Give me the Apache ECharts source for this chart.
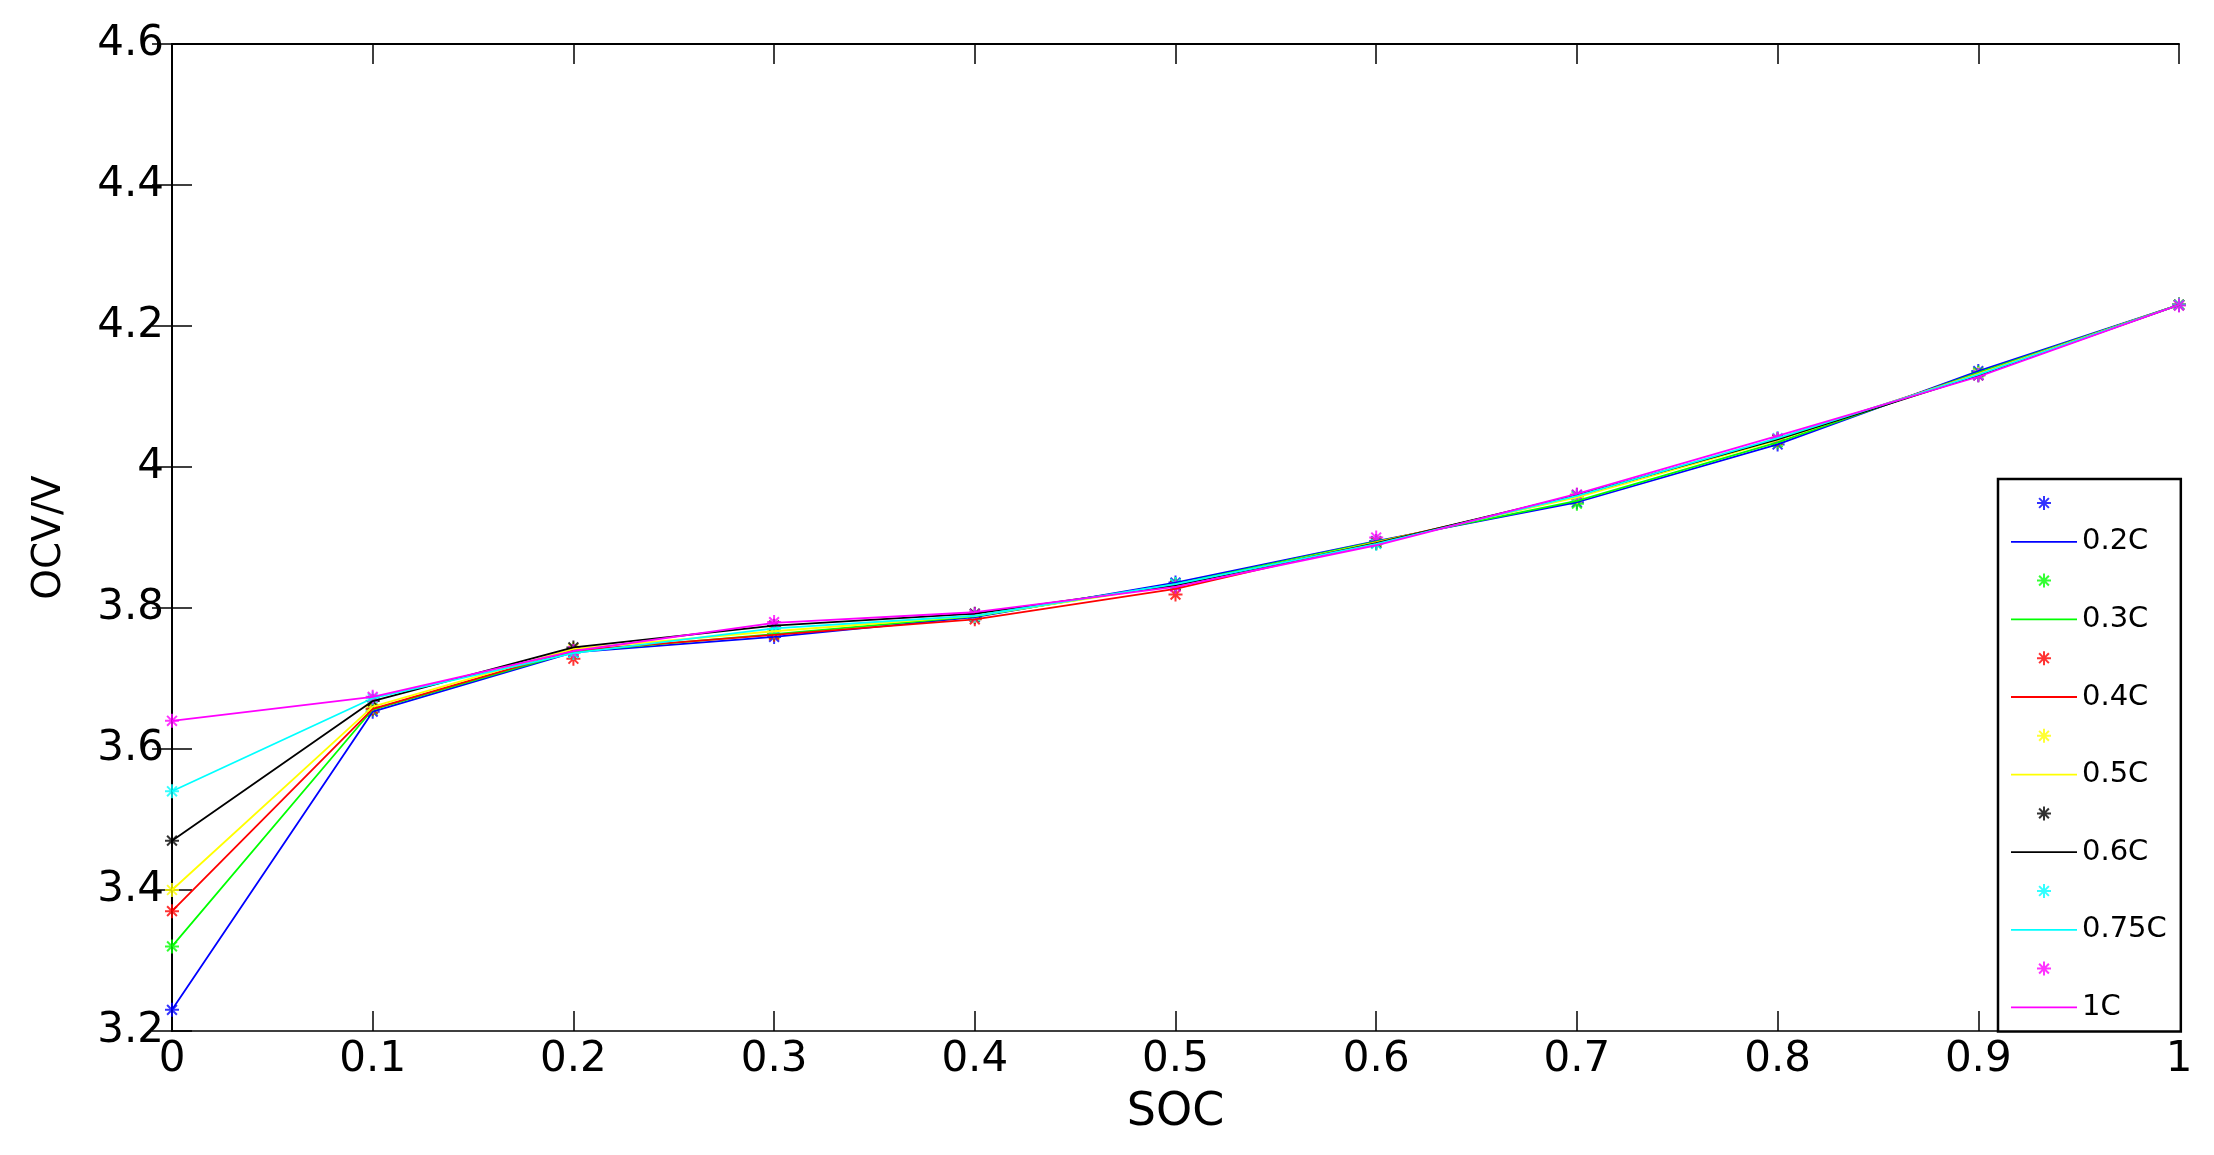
<!DOCTYPE html>
<html>
<head>
<meta charset="utf-8">
<script src="https://cdn.jsdelivr.net/npm/echarts@6/dist/echarts.min.js"></script>
<style>
  body { margin: 0; background: #fff; }
  #main { width: 2214px; height: 1155px; }
</style>
</head>
<body>
<div id="main"></div>
<script>
// SOC points
var soc = [0, 0.1, 0.2, 0.3, 0.4, 0.5, 0.6, 0.7, 0.8, 0.9, 1];
var rates = ['0.2C', '0.3C', '0.4C', '0.5C', '0.6C', '0.75C', '1C'];

// measured points (stars)
var mark02 = [3.23, 3.653, 3.737, 3.759, 3.787, 3.836, 3.895, 3.950, 4.032, 4.136, 4.23];
var mark03 = [3.32, 3.656, 3.738, 3.763, 3.788, 3.834, 3.894, 3.948, 4.035, 4.134, 4.23];
var mark04 = [3.37, 3.657, 3.728, 3.762, 3.784, 3.819, 3.893, 3.958, 4.040, 4.132, 4.23];
var mark05 = [3.40, 3.660, 3.742, 3.767, 3.789, 3.832, 3.893, 3.957, 4.038, 4.132, 4.23];
var mark06 = [3.47, 3.668, 3.744, 3.775, 3.792, 3.832, 3.892, 3.960, 4.039, 4.130, 4.23];
var mark075 = [3.54, 3.672, 3.736, 3.770, 3.789, 3.834, 3.891, 3.959, 4.041, 4.131, 4.23];
var mark1 = [3.64, 3.674, 3.739, 3.780, 3.791, 3.830, 3.900, 3.961, 4.040, 4.130, 4.229];

// curves (lines)
var line02 = [3.23, 3.653, 3.737, 3.759, 3.787, 3.836, 3.895, 3.950, 4.032, 4.136, 4.23];
var line03 = [3.32, 3.656, 3.738, 3.763, 3.788, 3.834, 3.894, 3.952, 4.035, 4.134, 4.23];
var line04 = [3.37, 3.657, 3.740, 3.762, 3.784, 3.827, 3.893, 3.958, 4.040, 4.132, 4.23];
var line05 = [3.40, 3.660, 3.742, 3.767, 3.789, 3.832, 3.893, 3.957, 4.038, 4.132, 4.23];
var line06 = [3.47, 3.668, 3.744, 3.775, 3.792, 3.832, 3.892, 3.960, 4.039, 4.130, 4.23];
var line075 = [3.54, 3.672, 3.736, 3.771, 3.789, 3.834, 3.891, 3.959, 4.041, 4.131, 4.23];
var line1 = [3.64, 3.674, 3.739, 3.779, 3.794, 3.830, 3.889, 3.962, 4.044, 4.128, 4.23];

var marks = [mark02, mark03, mark04, mark05, mark06, mark075, mark1];
var lines = [line02, line03, line04, line05, line06, line075, line1];
var colors = ['#0000ff', '#00ff00', '#ff0000', '#ffff00', '#000000', '#00ffff', '#ff00ff'];
var star = 'path://M0,-1L0,1M-1,0L1,0M-0.7,-0.7L0.7,0.7M-0.7,0.7L0.7,-0.7';
var dash = 'path://M0,0H66V1.8H0Z';
var font = "'DejaVu Sans', sans-serif";

var series = [];
var legendData = [];
for (var i = 0; i < rates.length; i++) {
  var pts = [], crv = [];
  for (var j = 0; j < soc.length; j++) {
    pts.push([soc[j], marks[i][j]]);
    crv.push([soc[j], lines[i][j]]);
  }
  series.push({
    name: rates[i] + '*',
    type: 'scatter',
    data: pts,
    symbol: star,
    symbolSize: 14,
    itemStyle: { color: colors[i], borderColor: colors[i], borderWidth: 2 },
    silent: true
  });
  series.push({
    name: rates[i],
    type: 'line',
    data: crv,
    symbol: 'none',
    lineStyle: { color: colors[i], width: 1.8 },
    itemStyle: { color: colors[i] },
    silent: true
  });
  legendData.push({ name: rates[i] + '*' });
  legendData.push({ name: rates[i], icon: dash, itemStyle: { color: colors[i], borderWidth: 0 } });
}

var chart = echarts.init(document.getElementById('main'));
chart.setOption({
  animation: false,
  backgroundColor: '#fff',
  grid: { left: 172, right: 35, top: 44, bottom: 124, containLabel: false },
  legend: {
    data: legendData,
    orient: 'vertical',
    left: 1998,
    top: 479,
    itemWidth: 66,
    itemHeight: 14,
    itemGap: 8.8,
    padding: [9, 14, 9, 13],
    backgroundColor: '#fff',
    borderColor: '#000',
    borderWidth: 2.5,
    selectedMode: false,
    formatter: function (name) { return name.charAt(name.length - 1) == '*' ? ' ' : name; },
    textStyle: { fontSize: 29, lineHeight: 30, height: 30, color: '#000', fontFamily: font }
  },
  xAxis: [{
    type: 'value', min: 0, max: 1, interval: 0.1, position: 'bottom',
    name: 'SOC', nameLocation: 'middle', nameGap: 59,
    nameTextStyle: { fontSize: 46, color: '#000', fontFamily: font },
    axisLine: { lineStyle: { color: '#000', width: 1.5 } },
    axisTick: { inside: true, length: 20, lineStyle: { color: '#000', width: 1.5 } },
    axisLabel: { fontSize: 42, color: '#000', margin: 8, fontFamily: font },
    splitLine: { show: false }
  }, {
    type: 'value', min: 0, max: 1, interval: 0.1, position: 'top',
    axisLine: { lineStyle: { color: '#000', width: 2 } },
    axisTick: { inside: true, length: 20, lineStyle: { color: '#000', width: 1.5 } },
    axisLabel: { show: false },
    splitLine: { show: false }
  }],
  yAxis: [{
    type: 'value', min: 3.2, max: 4.6, interval: 0.2, position: 'left',
    name: 'OCV/V', nameLocation: 'middle', nameGap: 103,
    nameTextStyle: { fontSize: 39, color: '#000', fontFamily: font },
    axisLine: { show: true, lineStyle: { color: '#000', width: 1.5 } },
    axisTick: { show: true, inside: true, length: 20, lineStyle: { color: '#000', width: 1.5 } },
    axisLabel: { fontSize: 42, color: '#000', margin: 8, fontFamily: font },
    splitLine: { show: false }
  }, {
    type: 'value', min: 3.2, max: 4.6, interval: 0.2, position: 'right',
    axisLine: { show: true, lineStyle: { color: '#000', width: 2 } },
    axisTick: { show: true, inside: true, length: 20, lineStyle: { color: '#000', width: 1.5 } },
    axisLabel: { show: false },
    splitLine: { show: false }
  }],
  series: series
});
</script>
</body>
</html>
